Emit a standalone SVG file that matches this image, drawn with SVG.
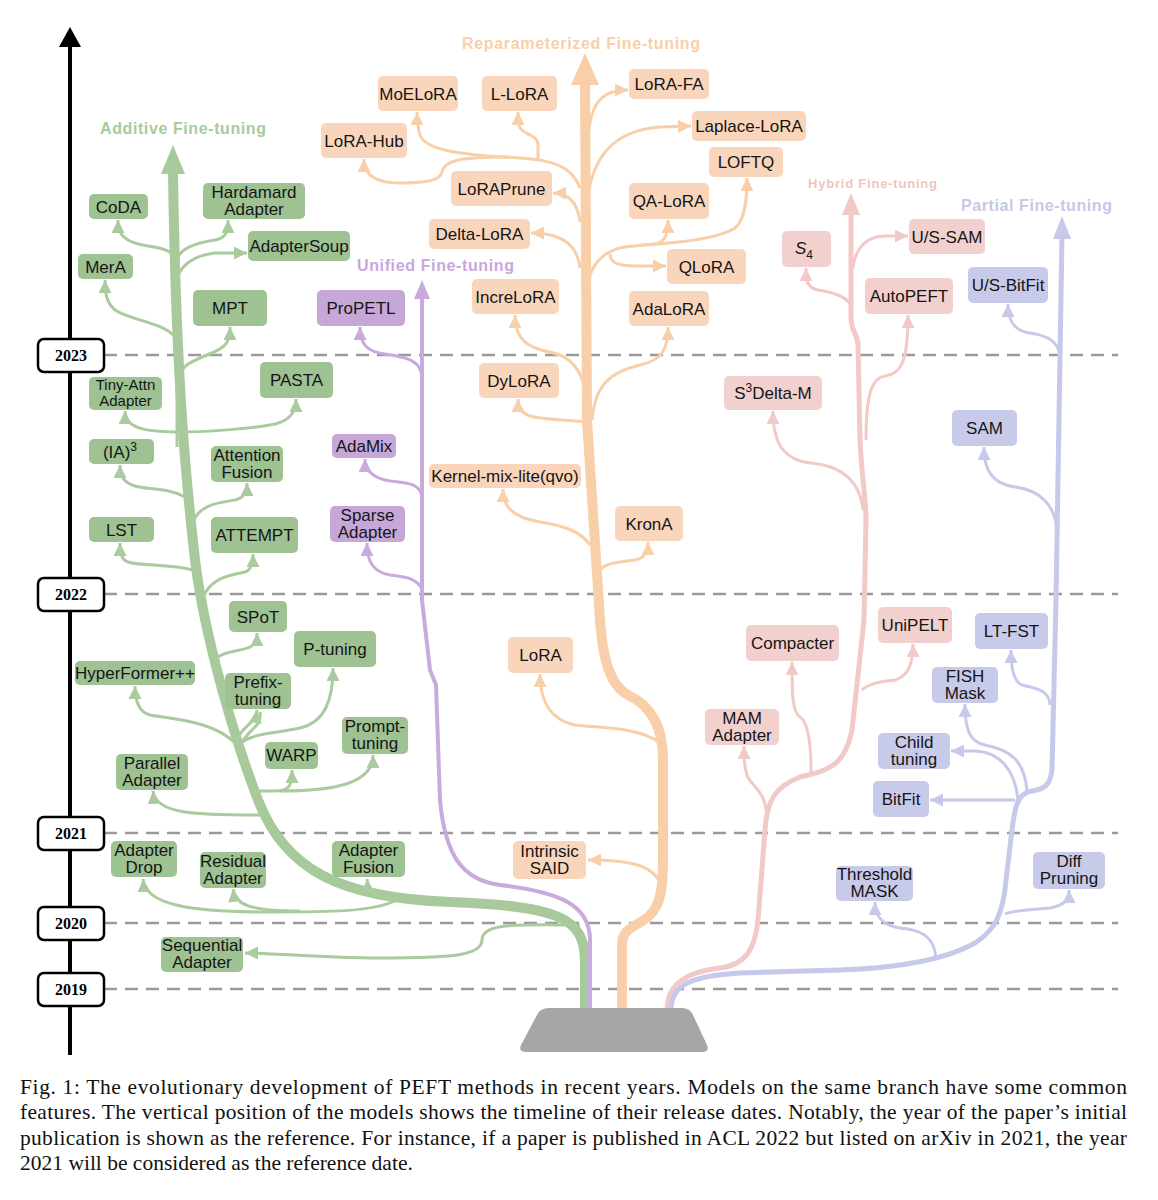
<svg xmlns="http://www.w3.org/2000/svg" width="1158" height="1200" viewBox="0 0 1158 1200">
<style>
.t{font-family:"Liberation Sans",Arial,sans-serif;font-size:17px;fill:#151515;text-anchor:middle}
.g{fill:#9ec292}.o{fill:#f9d6bb}.p{fill:#c5a8d8}.h{fill:#f1d0cd}.b{fill:#c8cae9}
.lg{fill:none;stroke:#a9cb9e;stroke-width:3}.lo{fill:none;stroke:#f8cfa8;stroke-width:3}
.lp{fill:none;stroke:#c9aadd;stroke-width:3}.lh{fill:none;stroke:#f1c9c6;stroke-width:3}.lb{fill:none;stroke:#c6c9ea;stroke-width:3}
.yb{fill:#fff;stroke:#000;stroke-width:2.5}
.yt{font-family:"Liberation Serif","Times New Roman",serif;font-size:16px;font-weight:bold;text-anchor:middle;fill:#000}
.dash{stroke:#9a9a9a;stroke-width:2.5;stroke-dasharray:13 8}
.lab{font-family:"Liberation Sans",Arial,sans-serif;font-weight:bold;font-size:16px}
.cap{font-family:"Liberation Serif","Times New Roman",serif;font-size:21.5px;fill:#111}
</style>
<defs>
<marker id="mG" markerUnits="userSpaceOnUse" markerWidth="14" markerHeight="13" refX="13" refY="6.5" orient="auto"><path d="M0,0 L13,6.5 L0,13 z" fill="#a9cb9e"/></marker>
<marker id="mO" markerUnits="userSpaceOnUse" markerWidth="14" markerHeight="13" refX="13" refY="6.5" orient="auto"><path d="M0,0 L13,6.5 L0,13 z" fill="#f8cfa8"/></marker>
<marker id="mP" markerUnits="userSpaceOnUse" markerWidth="14" markerHeight="13" refX="13" refY="6.5" orient="auto"><path d="M0,0 L13,6.5 L0,13 z" fill="#c9aadd"/></marker>
<marker id="mH" markerUnits="userSpaceOnUse" markerWidth="14" markerHeight="13" refX="13" refY="6.5" orient="auto"><path d="M0,0 L13,6.5 L0,13 z" fill="#f1c9c6"/></marker>
<marker id="mB" markerUnits="userSpaceOnUse" markerWidth="14" markerHeight="13" refX="13" refY="6.5" orient="auto"><path d="M0,0 L13,6.5 L0,13 z" fill="#c6c9ea"/></marker>
</defs>
<rect width="1158" height="1200" fill="#fff"/>

<g id="timeline">
<line x1="70" y1="44" x2="70" y2="1055" stroke="#000" stroke-width="4"/>
<polygon points="70,27 59,47 81,47" fill="#000"/>
<g class="dashes">
<line class="dash" x1="104" y1="355" x2="1118" y2="355"/>
<line class="dash" x1="104" y1="594" x2="1118" y2="594"/>
<line class="dash" x1="104" y1="833" x2="1118" y2="833"/>
<line class="dash" x1="104" y1="923" x2="1118" y2="923"/>
<line class="dash" x1="104" y1="989" x2="1118" y2="989"/>
</g>
<g id="y2023"><rect class="yb" x="38" y="339" width="66" height="33" rx="6"/><text class="yt" x="71" y="361">2023</text></g>
<g id="y2022"><rect class="yb" x="38" y="578" width="66" height="33" rx="6"/><text class="yt" x="71" y="600">2022</text></g>
<g id="y2021"><rect class="yb" x="38" y="817" width="66" height="33" rx="6"/><text class="yt" x="71" y="839">2021</text></g>
<g id="y2020"><rect class="yb" x="38" y="907" width="66" height="33" rx="6"/><text class="yt" x="71" y="929">2020</text></g>
<g id="y2019"><rect class="yb" x="38" y="973" width="66" height="33" rx="6"/><text class="yt" x="71" y="995">2019</text></g>
</g>

<g id="labels">
<text class="lab" x="100" y="134" fill="#a6cc9a" textLength="166">Additive Fine-tuning</text>
<text class="lab" x="462" y="49" fill="#f8cfaa" textLength="238">Reparameterized Fine-tuning</text>
<text class="lab" x="357" y="271" fill="#c8a8dc" textLength="157">Unified Fine-tuning</text>
<text class="lab" x="808" y="188" fill="#f0c4c0" style="font-size:13px" textLength="129">Hybrid Fine-tuning</text>
<text class="lab" x="961" y="211" fill="#c5c8e8" textLength="151">Partial Fine-tuning</text>
</g>

<g id="connectors">
<!-- trunks -->
<path d="M585,1010 L585,962 C585,918 560,906 450,902 C340,898 285,870 258,800 C235,740 205,640 195,560 C186,480 176,380 173,172" fill="none" stroke="#a8c99c" stroke-width="10"/>
<polygon points="173,145 161,174 185,174" fill="#a8c99c"/>
<path d="M590,1010 L590,940 C590,905 560,892 500,885 C462,880 445,855 440,800 L436,685 L430,670 L422,600 L422,296" fill="none" stroke="#c9aadd" stroke-width="4"/>
<polygon points="422,280 414,299 430,299" fill="#c9aadd"/>
<path d="M622,1010 L622,945 C622,926 640,926 650,915 C660,905 663,890 663,860 L663,760 C663,725 650,705 628,695 C610,685 603,660 600,620 L587,420 L585,82" fill="none" stroke="#f8cfa8" stroke-width="10"/>
<polygon points="585,53 571,85 599,85" fill="#f8cfa8"/>
<path d="M667,1010 C667,985 685,972 720,968 C745,965 755,950 758,920 L765,830 C767,800 775,787 800,777 C830,770 845,765 852,730 L864,620 L866,520 C866,500 862,480 860,440 L858,345 C858,335 852,333 851,320 L851,212" fill="none" stroke="#f1c9c6" stroke-width="5"/>
<polygon points="851,193 842,215 860,215" fill="#f1c9c6"/>
<path d="M671,1010 C671,985 690,976 740,973 L840,970 C900,968 945,960 975,943 C995,930 1003,915 1006,880 L1012,830 C1015,805 1018,793 1032,791 C1045,789 1050,785 1052,770 L1056,600 L1062,235" fill="none" stroke="#c6c9ea" stroke-width="5"/>
<polygon points="1062,216 1053,239 1071,239" fill="#c6c9ea"/>

<!-- additive branches -->
<path class="lg" marker-end="url(#mG)" d="M580,925 C520,925 482,922 482,940 C482,956 450,958 380,958 C320,958 280,953 245,953"/>
<path class="lg" marker-end="url(#mG)" d="M395,901 C370,912 330,912 270,912 C190,912 145,905 143,879"/>
<path class="lg" marker-end="url(#mG)" d="M300,911 C250,911 235,905 233,889"/>
<path class="lg" marker-end="url(#mG)" d="M397,899 C375,897 368,892 367,879"/>
<path class="lg" marker-end="url(#mG)" d="M262,815 C200,815 155,815 153,791"/>
<path class="lg" marker-end="url(#mG)" d="M253,791 L275,791 C290,791 292,785 292,770"/>
<path class="lg" marker-end="url(#mG)" d="M280,791 C330,791 373,785 373,755"/>
<path class="lg" marker-end="url(#mG)" d="M236,744 C215,722 180,720 150,715 C138,712 135,700 135,686"/>
<path class="lg" marker-end="url(#mG)" d="M236,742 C242,724 255,726 257,710"/>
<path class="lg" d="M240,746 C250,726 262,728 260,712"/>
<path class="lg" marker-end="url(#mG)" d="M238,746 C250,732 280,733 300,728 C325,722 333,700 333,668"/>
<path class="lg" marker-end="url(#mG)" d="M213,663 C220,650 240,652 250,647 C256,644 257,640 257,633"/>
<path class="lg" marker-end="url(#mG)" d="M203,598 C210,578 230,575 245,572 C252,570 253,562 253,554"/>
<path class="lg" marker-end="url(#mG)" d="M193,570 C170,564 140,566 128,562 C121,560 120,552 120,543"/>
<path class="lg" marker-end="url(#mG)" d="M192,523 C200,505 215,503 235,500 C245,498 247,490 247,483"/>
<path class="lg" marker-end="url(#mG)" d="M185,497 C170,488 150,490 135,486 C122,482 120,475 120,465"/>
<path class="lg" marker-end="url(#mG)" d="M182,432 C150,432 125,430 125,411"/>
<path class="lg" marker-end="url(#mG)" d="M178,432 C200,432 240,430 270,425 C290,422 296,412 296,399"/>
<path class="lg" marker-end="url(#mG)" d="M177,447 L177,385 C177,365 195,360 212,353 C226,347 230,342 230,327"/>
<path class="lg" marker-end="url(#mG)" d="M173,335 C160,322 130,320 115,310 C107,303 105,295 105,280"/>
<path class="lg" marker-end="url(#mG)" d="M173,255 C165,245 140,248 128,240 C120,235 118,230 118,220"/>
<path class="lg" marker-end="url(#mG)" d="M175,262 C180,248 195,243 215,240 C226,238 228,232 228,220"/>
<path class="lg" marker-end="url(#mG)" d="M175,285 C178,265 195,255 215,253 L247,253"/>

<!-- unified branches -->
<path class="lp" marker-end="url(#mP)" d="M421,372 C418,360 405,357 385,354 C368,352 360,345 360,327"/>
<path class="lp" marker-end="url(#mP)" d="M422,497 C420,482 405,483 390,481 C372,478 365,470 365,459"/>
<path class="lp" marker-end="url(#mP)" d="M423,593 C420,578 405,577 390,575 C372,572 367,560 367,543"/>

<!-- reparameterized branches -->
<path class="lo" marker-end="url(#mO)" d="M662,887 C655,865 630,860 588,860"/>
<path class="lo" marker-end="url(#mO)" d="M660,743 C640,727 600,728 575,725 C550,720 540,700 540,674"/>
<path class="lo" marker-end="url(#mO)" d="M600,570 C605,563 620,562 635,560 C646,558 648,550 648,542"/>
<path class="lo" marker-end="url(#mO)" d="M590,545 C580,530 560,525 540,522 C510,517 503,505 503,489"/>
<path class="lo" marker-end="url(#mO)" d="M586,422 C570,420 545,420 530,416 C520,413 518,405 518,399"/>
<path class="lo" marker-end="url(#mO)" d="M592,420 C595,385 610,372 640,365 C662,360 668,350 668,327"/>
<path class="lo" marker-end="url(#mO)" d="M585,392 C582,370 570,356 550,352 C528,348 515,340 515,315"/>
<path class="lo" marker-end="url(#mO)" d="M580,268 C578,248 565,233 531,233"/>
<path class="lo" marker-end="url(#mO)" d="M580,222 C578,205 570,193 553,193"/>
<path class="lo" marker-end="url(#mO)" d="M587,285 C592,262 605,250 625,247 L655,244 C666,243 668,232 668,220"/>
<path class="lo" marker-end="url(#mO)" d="M640,245 C680,243 720,238 735,228 C745,220 747,200 747,178"/>
<path class="lo" marker-end="url(#mO)" d="M610,254 C610,264 620,266 640,266 L666,266"/>
<path class="lo" marker-end="url(#mO)" d="M588,195 C595,150 620,130 660,127 L691,126"/>
<path class="lo" marker-end="url(#mO)" d="M588,140 C590,105 600,90 628,90"/>
<path class="lo" marker-end="url(#mO)" d="M580,188 C572,165 550,160 520,158 C460,155 425,150 420,135 C418,128 417,122 417,112"/>
<path class="lo" marker-end="url(#mO)" d="M538,160 L538,145 C538,135 525,135 520,128 C518,124 518,120 518,112"/>
<path class="lo" marker-end="url(#mO)" d="M510,157 C460,157 445,160 442,172 C440,182 420,183 400,183 C375,183 364,175 364,159"/>

<!-- hybrid branches -->
<path class="lh" marker-end="url(#mH)" d="M766,810 C764,790 750,785 747,775 C744,765 744,758 744,746"/>
<path class="lh" marker-end="url(#mH)" d="M811,772 C811,745 808,722 800,717 C793,712 792,700 792,662"/>
<path class="lh" marker-end="url(#mH)" d="M862,690 C870,683 880,682 895,680 C908,676 913,665 913,644"/>
<path class="lh" marker-end="url(#mH)" d="M863,510 C860,480 840,465 810,463 C785,460 773,445 773,411"/>
<path class="lh" marker-end="url(#mH)" d="M866,440 C866,400 870,378 885,376 C900,374 908,365 908,315"/>
<path class="lh" marker-end="url(#mH)" d="M851,305 C845,295 830,292 818,290 C808,288 806,282 806,268"/>
<path class="lh" marker-end="url(#mH)" d="M853,268 C855,250 865,236 885,236 L908,236"/>

<!-- partial branches -->
<path class="lb" marker-end="url(#mB)" d="M936,958 C934,935 920,930 900,928 C882,926 875,915 875,902"/>
<path class="lb" marker-end="url(#mB)" d="M1005,914 C1015,910 1030,910 1050,908 C1065,905 1069,900 1069,890"/>
<path class="lb" marker-end="url(#mB)" d="M1015,800 L930,800"/>
<path class="lb" marker-end="url(#mB)" d="M1018,800 C1015,770 1000,752 975,751 L951,751"/>
<path class="lb" marker-end="url(#mB)" d="M1027,792 C1025,760 1010,750 985,745 C970,742 965,730 965,704"/>
<path class="lb" marker-end="url(#mB)" d="M1050,705 C1050,690 1035,688 1022,685 C1014,682 1011,670 1011,650"/>
<path class="lb" marker-end="url(#mB)" d="M1057,530 C1055,505 1040,490 1015,487 C992,484 984,470 984,447"/>
<path class="lb" marker-end="url(#mB)" d="M1060,355 C1058,340 1045,335 1030,333 C1015,331 1008,322 1008,304"/>
</g>

<g id="base"><path d="M549,1008 L682,1008 Q690,1008 693,1015 L707,1045 Q710,1052 702,1052 L526,1052 Q518,1052 521,1045 L537,1015 Q540,1008 549,1008 Z" fill="#a6a6a6"/></g>

<!-- Additive nodes -->
<g id="n-coda"><rect class="g" x="89" y="194" width="59" height="25" rx="5"/><text class="t" x="118.5" y="212.5">CoDA</text></g>
<g id="n-hardamard"><rect class="g" x="203" y="183" width="102" height="36" rx="5"/><text class="t" x="254" y="198">Hardamard</text><text class="t" x="254" y="215">Adapter</text></g>
<g id="n-adaptersoup"><rect class="g" x="248" y="231" width="102" height="30" rx="5"/><text class="t" x="299" y="252">AdapterSoup</text></g>
<g id="n-mera"><rect class="g" x="78" y="254" width="55" height="25" rx="5"/><text class="t" x="105.5" y="272.5">MerA</text></g>
<g id="n-mpt"><rect class="g" x="193" y="290" width="74" height="36" rx="5"/><text class="t" x="230" y="314">MPT</text></g>
<g id="n-tinyattn"><rect class="g" x="89" y="377" width="73" height="33" rx="5"/><text class="t" x="125.5" y="390" style="font-size:15px">Tiny-Attn</text><text class="t" x="125.5" y="406" style="font-size:15px">Adapter</text></g>
<g id="n-pasta"><rect class="g" x="260" y="362" width="73" height="36" rx="5"/><text class="t" x="296.5" y="386">PASTA</text></g>
<g id="n-ia3"><rect class="g" x="89" y="439" width="65" height="25" rx="5"/><text class="t" x="120" y="458">(IA)<tspan dy="-7" style="font-size:12px">3</tspan></text></g>
<g id="n-attnfusion"><rect class="g" x="211" y="446" width="72" height="36" rx="5"/><text class="t" x="247" y="461">Attention</text><text class="t" x="247" y="478">Fusion</text></g>
<g id="n-lst"><rect class="g" x="89" y="517" width="65" height="25" rx="5"/><text class="t" x="121.5" y="535.5">LST</text></g>
<g id="n-attempt"><rect class="g" x="211" y="517" width="87" height="36" rx="5"/><text class="t" x="254.5" y="541">ATTEMPT</text></g>
<g id="n-spot"><rect class="g" x="229" y="601" width="58" height="31" rx="5"/><text class="t" x="258" y="622.5">SPoT</text></g>
<g id="n-ptuning"><rect class="g" x="294" y="631" width="82" height="36" rx="5"/><text class="t" x="335" y="655">P-tuning</text></g>
<g id="n-hyperformer"><rect class="g" x="75" y="661" width="120" height="24" rx="5"/><text class="t" x="135" y="679">HyperFormer++</text></g>
<g id="n-prefix"><rect class="g" x="225" y="673" width="66" height="36" rx="5"/><text class="t" x="258" y="688">Prefix-</text><text class="t" x="258" y="705">tuning</text></g>
<g id="n-prompt"><rect class="g" x="342" y="717" width="66" height="37" rx="5"/><text class="t" x="375" y="732">Prompt-</text><text class="t" x="375" y="749">tuning</text></g>
<g id="n-warp"><rect class="g" x="265" y="742" width="53" height="27" rx="5"/><text class="t" x="291.5" y="761">WARP</text></g>
<g id="n-parallel"><rect class="g" x="116" y="754" width="72" height="36" rx="5"/><text class="t" x="152" y="769">Parallel</text><text class="t" x="152" y="786">Adapter</text></g>
<g id="n-adapterdrop"><rect class="g" x="111" y="841" width="66" height="36" rx="5"/><text class="t" x="144" y="856">Adapter</text><text class="t" x="144" y="873">Drop</text></g>
<g id="n-residual"><rect class="g" x="200" y="852" width="66" height="36" rx="5"/><text class="t" x="233" y="867">Residual</text><text class="t" x="233" y="884">Adapter</text></g>
<g id="n-adapterfusion"><rect class="g" x="332" y="841" width="73" height="36" rx="5"/><text class="t" x="368.5" y="856">Adapter</text><text class="t" x="368.5" y="873">Fusion</text></g>
<g id="n-sequential"><rect class="g" x="161" y="937" width="82" height="35" rx="5"/><text class="t" x="202" y="951">Sequential</text><text class="t" x="202" y="968">Adapter</text></g>

<!-- Unified nodes -->
<g id="n-propetl"><rect class="p" x="317" y="290" width="88" height="36" rx="5"/><text class="t" x="361" y="314">ProPETL</text></g>
<g id="n-adamix"><rect class="p" x="332" y="434" width="64" height="24" rx="5"/><text class="t" x="364" y="452">AdaMix</text></g>
<g id="n-sparse"><rect class="p" x="330" y="506" width="75" height="36" rx="5"/><text class="t" x="367.5" y="521">Sparse</text><text class="t" x="367.5" y="538">Adapter</text></g>

<!-- Reparameterized nodes -->
<g id="n-moelora"><rect class="o" x="378" y="76" width="80" height="35" rx="5"/><text class="t" x="418" y="99.5">MoELoRA</text></g>
<g id="n-llora"><rect class="o" x="482" y="76" width="75" height="35" rx="5"/><text class="t" x="519.5" y="99.5">L-LoRA</text></g>
<g id="n-lorafa"><rect class="o" x="629" y="69" width="80" height="30" rx="5"/><text class="t" x="669" y="90">LoRA-FA</text></g>
<g id="n-lorahub"><rect class="o" x="321" y="123" width="86" height="35" rx="5"/><text class="t" x="364" y="146.5">LoRA-Hub</text></g>
<g id="n-laplace"><rect class="o" x="692" y="111" width="114" height="30" rx="5"/><text class="t" x="749" y="132">Laplace-LoRA</text></g>
<g id="n-loftq"><rect class="o" x="709" y="147" width="74" height="30" rx="5"/><text class="t" x="746" y="168">LOFTQ</text></g>
<g id="n-loraprune"><rect class="o" x="451" y="171" width="101" height="35" rx="5"/><text class="t" x="501.5" y="194.5">LoRAPrune</text></g>
<g id="n-qalora"><rect class="o" x="629" y="183" width="80" height="36" rx="5"/><text class="t" x="669" y="207">QA-LoRA</text></g>
<g id="n-deltalora"><rect class="o" x="429" y="219" width="101" height="30" rx="5"/><text class="t" x="479.5" y="240">Delta-LoRA</text></g>
<g id="n-qlora"><rect class="o" x="667" y="249" width="79" height="35" rx="5"/><text class="t" x="706.5" y="272.5">QLoRA</text></g>
<g id="n-increlora"><rect class="o" x="472" y="279" width="87" height="35" rx="5"/><text class="t" x="515.5" y="302.5">IncreLoRA</text></g>
<g id="n-adalora"><rect class="o" x="629" y="291" width="80" height="35" rx="5"/><text class="t" x="669" y="314.5">AdaLoRA</text></g>
<g id="n-dylora"><rect class="o" x="479" y="363" width="80" height="35" rx="5"/><text class="t" x="519" y="386.5">DyLoRA</text></g>
<g id="n-kernelmix"><rect class="o" x="429" y="464" width="152" height="24" rx="5"/><text class="t" x="505" y="482">Kernel-mix-lite(qvo)</text></g>
<g id="n-krona"><rect class="o" x="615" y="506" width="68" height="35" rx="5"/><text class="t" x="649" y="529.5">KronA</text></g>
<g id="n-lora"><rect class="o" x="508" y="637" width="65" height="36" rx="5"/><text class="t" x="540.5" y="661">LoRA</text></g>
<g id="n-intrinsic"><rect class="o" x="513" y="841" width="73" height="38" rx="5"/><text class="t" x="549.5" y="857">Intrinsic</text><text class="t" x="549.5" y="874">SAID</text></g>

<!-- Hybrid nodes -->
<g id="n-s4"><rect class="h" x="782" y="231" width="49" height="36" rx="5"/><text class="t" x="804" y="254"><tspan font-style="italic">S</tspan><tspan dy="5" style="font-size:12px">4</tspan></text></g>
<g id="n-ussam"><rect class="h" x="909" y="219" width="76" height="35" rx="5"/><text class="t" x="947" y="242.5">U/S-SAM</text></g>
<g id="n-autopeft"><rect class="h" x="865" y="278" width="88" height="36" rx="5"/><text class="t" x="909" y="302">AutoPEFT</text></g>
<g id="n-s3delta"><rect class="h" x="724" y="376" width="98" height="34" rx="5"/><text class="t" x="773" y="399">S<tspan dy="-7" style="font-size:12px">3</tspan><tspan dy="7">Delta-M</tspan></text></g>
<g id="n-compacter"><rect class="h" x="746" y="625" width="93" height="36" rx="5"/><text class="t" x="792.5" y="649">Compacter</text></g>
<g id="n-unipelt"><rect class="h" x="878" y="607" width="74" height="36" rx="5"/><text class="t" x="915" y="631">UniPELT</text></g>
<g id="n-mam"><rect class="h" x="705" y="709" width="74" height="36" rx="5"/><text class="t" x="742" y="724">MAM</text><text class="t" x="742" y="741">Adapter</text></g>

<!-- Partial nodes -->
<g id="n-usbitfit"><rect class="b" x="968" y="267" width="80" height="36" rx="5"/><text class="t" x="1008" y="291">U/S-BitFit</text></g>
<g id="n-sam"><rect class="b" x="952" y="410" width="65" height="36" rx="5"/><text class="t" x="984.5" y="434">SAM</text></g>
<g id="n-ltfst"><rect class="b" x="975" y="613" width="73" height="36" rx="5"/><text class="t" x="1011.5" y="637">LT-FST</text></g>
<g id="n-fish"><rect class="b" x="932" y="667" width="66" height="36" rx="5"/><text class="t" x="965" y="682">FISH</text><text class="t" x="965" y="699">Mask</text></g>
<g id="n-child"><rect class="b" x="878" y="733" width="72" height="36" rx="5"/><text class="t" x="914" y="748">Child</text><text class="t" x="914" y="765">tuning</text></g>
<g id="n-bitfit"><rect class="b" x="873" y="781" width="56" height="36" rx="5"/><text class="t" x="901" y="805">BitFit</text></g>
<g id="n-threshold"><rect class="b" x="836" y="866" width="77" height="35" rx="5"/><text class="t" x="874.5" y="880">Threshold</text><text class="t" x="874.5" y="897">MASK</text></g>
<g id="n-diff"><rect class="b" x="1033" y="852" width="72" height="37" rx="5"/><text class="t" x="1069" y="867">Diff</text><text class="t" x="1069" y="884">Pruning</text></g>

<g id="caption">
<text class="cap" x="20" y="1094" textLength="1107" lengthAdjust="spacing">Fig. 1: The evolutionary development of PEFT methods in recent years. Models on the same branch have some common</text>
<text class="cap" x="20" y="1119" textLength="1107" lengthAdjust="spacing">features. The vertical position of the models shows the timeline of their release dates. Notably, the year of the paper’s initial</text>
<text class="cap" x="20" y="1145" textLength="1107" lengthAdjust="spacing">publication is shown as the reference. For instance, if a paper is published in ACL 2022 but listed on arXiv in 2021, the year</text>
<text class="cap" x="20" y="1170">2021 will be considered as the reference date.</text>
</g>
</svg>
